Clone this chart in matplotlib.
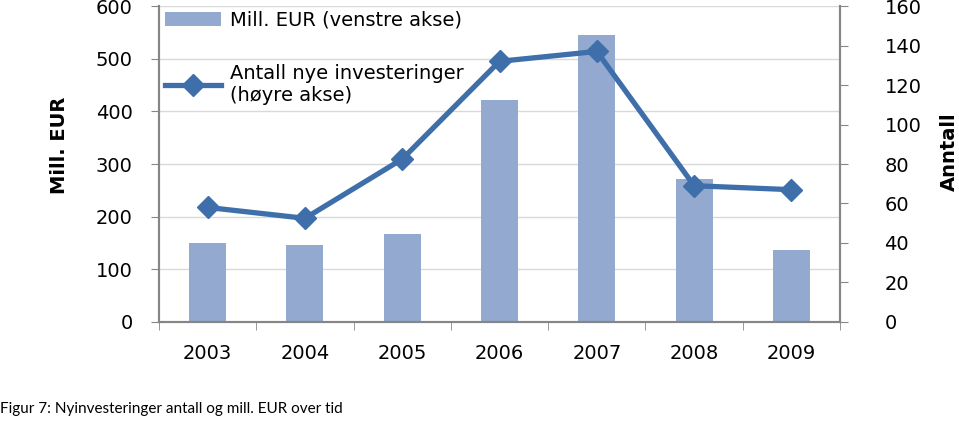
import matplotlib.pyplot as plt
import numpy as np

plt.rcParams['font.family'] = 'DejaVu Sans'

years = ['2003', '2004', '2005', '2006', '2007', '2008', '2009']
mill_eur = [150, 146, 167, 421, 545, 271, 137]
antall = [58, 52.5, 82.5, 132, 137, 69, 67]

bar_color = '#93A9CF'
line_color = '#3F6FAA'
axis_color = '#868686'

fig = plt.figure(figsize=(9.59, 4.21), dpi=100)
ax = fig.add_axes([0.1658, 0.2352, 0.876 - 0.1658, 0.9857 - 0.2352])
ax2 = ax.twinx()

x = np.arange(len(years))
bars = ax.bar(x, mill_eur, width=0.38, color=bar_color, zorder=2,
              label='Mill. EUR (venstre akse)')
line, = ax2.plot(x, antall, color=line_color, lw=3.8, marker='D', markersize=11,
                 label='Antall nye investeringer\n(høyre akse)')

ax.set_xlim(-0.5, len(years) - 0.5)
ax.set_ylim(0, 600)
ax.set_yticks(range(0, 601, 100))
ax2.set_ylim(0, 160)
ax2.set_yticks(range(0, 161, 20))

ax.yaxis.grid(True, color='#D9D9D9', lw=1)
ax.set_axisbelow(True)

ax.set_xticks(x)
ax.set_xticklabels(years, fontsize=14)
ax.tick_params(axis='x', length=0, pad=16)
ax.set_xticks(np.arange(-0.5, len(years)), minor=True)
ax.tick_params(axis='x', which='minor', length=6, color=axis_color, direction='out')
ax.tick_params(axis='y', labelsize=14, length=6, color=axis_color, pad=13)
ax2.tick_params(axis='y', labelsize=14, length=6, color=axis_color, pad=26)

for a in (ax, ax2):
    a.spines['top'].set_visible(False)
    for s in ('left', 'right', 'bottom'):
        a.spines[s].set_color(axis_color)
        a.spines[s].set_linewidth(1.5)

fig.text(0.062, 0.655, 'Mill. EUR', rotation=90, fontsize=14, fontweight='bold',
         ha='center', va='center')
fig.text(0.99, 0.64, 'Anntall', rotation=90, fontsize=14, fontweight='bold',
         ha='center', va='center')

fig.legend(handles=[bars, line], loc='upper left', bbox_to_anchor=(0.164, 0.993),
           frameon=False, fontsize=14, handlelength=2.9, labelspacing=1.75,
           handletextpad=0.45, borderaxespad=0)

fig.text(0.0, 0.012, 'Figur 7: Nyinvesteringer antall og mill. EUR over tid',
         fontsize=11, family='Lato', ha='left', va='bottom')

fig.savefig('out.png', dpi=100)
